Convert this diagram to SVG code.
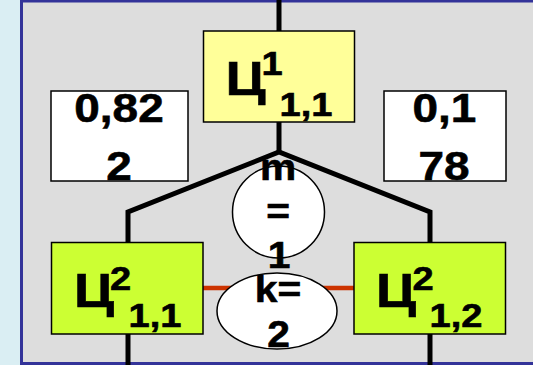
<svg xmlns="http://www.w3.org/2000/svg" width="533" height="365" viewBox="0 0 533 365">
  <style>
    .t { font-family: "Liberation Sans", Arial, sans-serif; font-weight: bold; fill: #000; stroke: #000; stroke-width: 0.6; text-anchor: middle; }
    .big { font-size: 49px; }
    .idx { font-size: 34px; }
    .num { font-size: 41px; }
    .oval { font-size: 37px; }
    .box { stroke: #000; stroke-width: 1.5; }
    .yellow { fill: #FFFF99; }
    .green { fill: #CCFF33; }
    .white { fill: #FFFFFF; }
    .wire { fill: none; stroke: #000; stroke-width: 5; stroke-linejoin: miter; }
    .link { stroke: #CC3300; stroke-width: 4.5; }
  </style>

  <!-- page background -->
  <rect x="0" y="0" width="533" height="365" fill="#DAEEF3"/>
  <rect x="21.5" y="1" width="560" height="362.5" fill="#DDDDDD" stroke="#333399" stroke-width="3"/>

  <!-- connectors -->
  <g id="connectors">
    <line class="wire" x1="279" y1="0" x2="279" y2="31"/>
    <polyline class="wire" points="128,242 128,212 279,152 430,212 430,242"/>
    <line class="wire" x1="279" y1="122" x2="279" y2="152"/>
    <line class="wire" x1="128" y1="334" x2="128" y2="366"/>
    <line class="wire" x1="430" y1="334" x2="430" y2="366"/>
    <line class="link" x1="203" y1="288" x2="354" y2="288"/>
  </g>

  <!-- top level -->
  <g id="node-top">
    <rect class="box yellow" x="203.5" y="31" width="151" height="91"/>
    <text class="t big" transform="translate(245.5,95) scale(1.12,1)">Ц</text>
    <text class="t idx" transform="translate(272,75) scale(1.12,1)">1</text>
    <text class="t idx" transform="translate(306,116) scale(1.12,1)">1,1</text>
  </g>

  <!-- weights -->
  <g id="weight-left">
    <rect class="box white" x="51" y="91" width="137" height="90"/>
    <text class="t num" transform="translate(119,122) scale(1.12,1)">0,82</text>
    <text class="t num" transform="translate(119,180) scale(1.12,1)">2</text>
  </g>
  <g id="weight-right">
    <rect class="box white" x="384" y="91" width="122" height="90"/>
    <text class="t num" transform="translate(444.5,122) scale(1.12,1)">0,1</text>
    <text class="t num" transform="translate(444,180) scale(1.12,1)">78</text>
  </g>

  <!-- second level -->
  <g id="node-left">
    <rect class="box green" x="51.5" y="242.5" width="151.5" height="91.5"/>
    <text class="t big" transform="translate(94,307) scale(1.12,1)">Ц</text>
    <text class="t idx" transform="translate(120.5,290) scale(1.12,1)">2</text>
    <text class="t idx" transform="translate(155,326.5) scale(1.12,1)">1,1</text>
  </g>
  <g id="node-right">
    <rect class="box green" x="354" y="242.5" width="151.5" height="91.5"/>
    <text class="t big" transform="translate(396,307) scale(1.12,1)">Ц</text>
    <text class="t idx" transform="translate(423,290) scale(1.12,1)">2</text>
    <text class="t idx" transform="translate(456,326.5) scale(1.12,1)">1,2</text>
  </g>

  <!-- parameters -->
  <g id="param-m">
    <circle class="box white" cx="278.5" cy="212" r="46"/>
    <text class="t oval" transform="translate(278,180) scale(1.1,1)">m</text>
    <text class="t oval" transform="translate(278,224) scale(1.1,1)">=</text>
    <text class="t oval" transform="translate(279,268) scale(1.1,1)">1</text>
  </g>
  <g id="param-k">
    <ellipse class="box white" cx="277" cy="311" rx="60" ry="38"/>
    <text class="t oval" transform="translate(278,302) scale(1.1,1)">k=</text>
    <text class="t oval" transform="translate(278.5,347) scale(1.1,1)">2</text>
  </g>
</svg>
